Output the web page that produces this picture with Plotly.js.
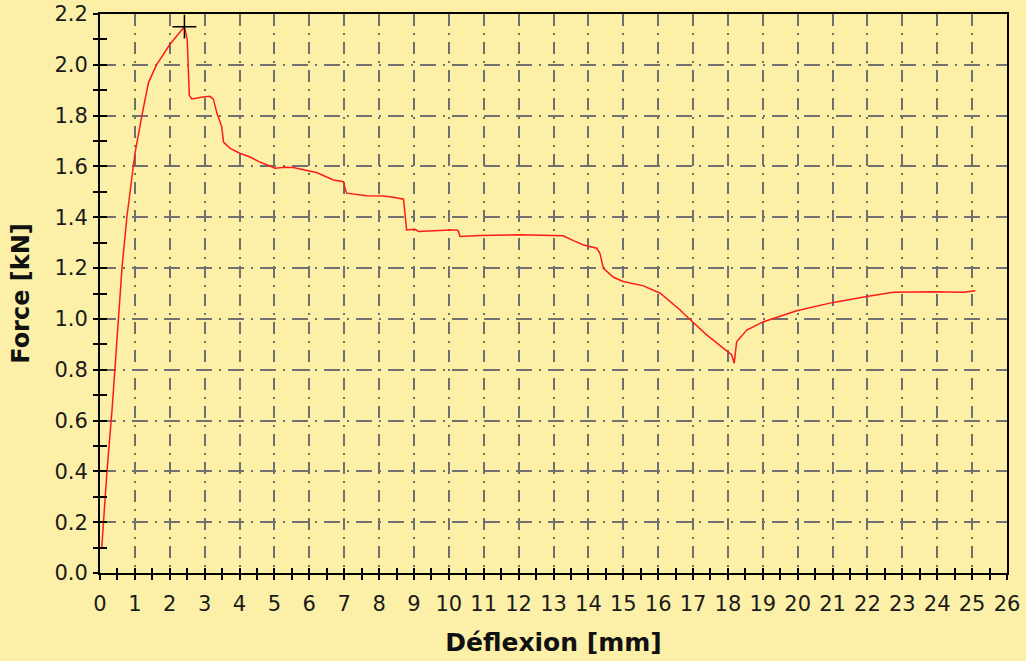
<!DOCTYPE html>
<html>
<head>
<meta charset="utf-8">
<script src="https://cdn.plot.ly/plotly-3.0.1.min.js"></script>
<style>
html,body{margin:0;padding:0;background:#fcf0a8;}
#chart{width:1026px;height:661px;}
</style>
</head>
<body>
<div id="chart"></div>
<script>
// Deflexion (mm) and force (kN)
const deflexion = [0.05,0.2,0.35,0.5,0.63,0.77,0.9,1.0,1.2,1.39,1.62,2.0,2.42,
  2.5,2.56,2.63,2.9,3.15,3.25,3.35,3.49,3.54,3.73,4.01,4.3,4.59,4.87,5.02,5.3,5.54,5.93,6.21,6.69,6.98,7.02,7.07,7.64,8.12,8.41,8.7,8.79,
  8.98,9.03,9.13,9.56,10.03,10.23,10.27,10.32,10.89,12.04,13.28,13.57,13.86,14.24,14.33,14.43,14.72,15.0,15.58,15.96,16.06,16.63,16.72,17.39,18.11,18.18,
  18.25,18.54,19.02,19.97,21.02,21.98,22.74,23.89,24.75,25.09];
const force = [0.10,0.40,0.65,0.95,1.20,1.40,1.55,1.65,1.80,1.93,2.00,2.08,2.15,
  2.10,1.88,1.866,1.872,1.876,1.865,1.81,1.757,1.696,1.671,1.652,1.637,1.617,1.602,1.593,1.597,1.596,1.584,1.576,1.547,1.540,1.515,1.495,1.485,1.484,1.479,1.471,1.35,
  1.353,1.353,1.344,1.348,1.350,1.350,1.347,1.324,1.328,1.331,1.327,1.308,1.291,1.278,1.258,1.199,1.164,1.147,1.130,1.107,1.101,1.035,1.022,0.937,0.858,0.825,
  0.910,0.956,0.989,1.032,1.065,1.088,1.105,1.107,1.105,1.111];
const peakX = [2.42];
const peakY = [2.15];
const xTitle = 'Déflexion [mm]';
const yTitle = 'Force [kN]';

const font = 'DejaVu Sans, Verdana, sans-serif';
const bg = '#fcf0a8';
const gridCol = '#707070';

const data = [
  {x: deflexion, y: force, type: 'scatter', mode: 'lines',
   line: {color: '#ff1a1a', width: 1.5}, hoverinfo: 'skip', showlegend: false},
  {x: peakX, y: peakY, type: 'scatter', mode: 'markers', xaxis: 'x2', yaxis: 'y2',
   marker: {symbol: 'cross-thin', size: 17, line: {color: '#000', width: 1.5}},
   cliponaxis: false, hoverinfo: 'skip', showlegend: false}
];

const layout = {
  width: 1026, height: 661,
  paper_bgcolor: bg, plot_bgcolor: bg,
  margin: {l: 100, r: 19, t: 14, b: 88},
  showlegend: false,
  font: {family: font, color: '#1a1a1a'},
  xaxis: {
    range: [0, 26], tick0: 0, dtick: 1,
    showline: true, linecolor: '#000', linewidth: 2, mirror: true,
    ticks: 'outside', ticklen: 5, tickwidth: 2, tickcolor: '#000',
    minor: {dtick: 0.5, ticks: 'outside', ticklen: 5, tickwidth: 2, tickcolor: '#000', showgrid: false},
    showgrid: true, gridcolor: gridCol, gridwidth: 2, griddash: '12px,7px,2px,7px',
    zeroline: false, tickfont: {size: 21, family: font, color: '#1a1a1a'},
    ticklabelstandoff: 6,
    title: {text: xTitle, font: {size: 25, family: font, color: '#111', weight: 'bold'}, standoff: 18}
  },
  yaxis: {
    range: [0, 2.2], tick0: 0, dtick: 0.2, tickformat: '.1f',
    showline: true, linecolor: '#000', linewidth: 2, mirror: true,
    ticks: 'outside', ticklen: 5, tickwidth: 2, tickcolor: '#000',
    minor: {dtick: 0.1, ticks: 'outside', ticklen: 5, tickwidth: 2, tickcolor: '#000', showgrid: false},
    showgrid: true, gridcolor: gridCol, gridwidth: 2, griddash: '16px,7px,2px,7px',
    zeroline: false, tickfont: {size: 21, family: font, color: '#1a1a1a'},
    ticklabelstandoff: 1,
    title: {text: yTitle, font: {size: 24, family: font, color: '#111', weight: 'bold'}, standoff: 18}
  },
  xaxis2: {
    overlaying: 'x', anchor: 'y2', side: 'bottom', range: [0, 26], tick0: 0, dtick: 0.5,
    ticks: 'inside', ticklen: 5, tickwidth: 2, tickcolor: '#000',
    showticklabels: false, showgrid: false, showline: false, zeroline: false
  },
  yaxis2: {
    overlaying: 'y', anchor: 'x2', side: 'left', range: [0, 2.2], tick0: 0, dtick: 0.1,
    ticks: 'inside', ticklen: 7, tickwidth: 2, tickcolor: '#000',
    showticklabels: false, showgrid: false, showline: false, zeroline: false
  }
};

Plotly.newPlot('chart', data, layout, {staticPlot: true, displayModeBar: false});
</script>
</body>
</html>
